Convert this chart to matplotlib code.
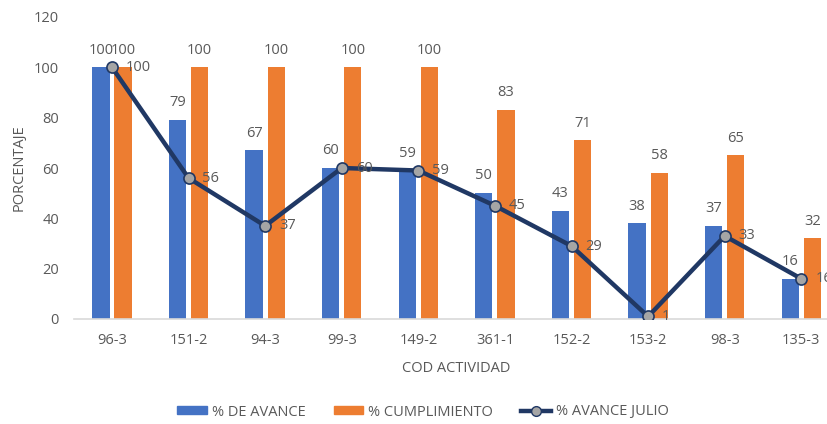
import matplotlib
matplotlib.use("Agg")
import matplotlib.pyplot as plt
import numpy as np
from matplotlib.lines import Line2D
from matplotlib.patches import Patch

categories = ["96-3", "151-2", "94-3", "99-3", "149-2", "361-1", "152-2", "153-2", "98-3", "135-3"]
avance = [100, 79, 67, 60, 59, 50, 43, 38, 37, 16]
cumplimiento = [100, 100, 100, 100, 100, 83, 71, 58, 65, 32]
avance_julio = [100, 56, 37, 60, 59, 45, 29, 1, 33, 16]

BLUE = "#4472C4"
ORANGE = "#ED7D31"
NAVY = "#203864"
GRAY_TXT = "#595959"

plt.rcParams['font.family'] = ['Open Sans', 'DejaVu Sans']

W, H = 828, 424
fig = plt.figure(figsize=(W/100, H/100), dpi=100)
left_px, right_px = 73.7, 839.6
bot_px, top_px = 319, 17
ax = fig.add_axes([left_px/W, (H-bot_px)/H, (right_px-left_px)/W, (bot_px-top_px)/H])

x = np.arange(len(categories))
bw = 0.225
off = 0.145
ax.bar(x - off, avance, bw, color=BLUE, zorder=2)
ax.bar(x + off, cumplimiento, bw, color=ORANGE, zorder=2)
ax.plot(x, avance_julio, color=NAVY, lw=3.2, marker='o', ms=8, mfc="#A5A5A5", mec=NAVY, mew=1.2, zorder=4)

fs = 10.5
for i in range(len(x)):
    ax.annotate(str(avance[i]), (x[i]-off, avance[i]), xytext=(0, 7), textcoords='offset points',
                ha='center', va='bottom', fontsize=fs, color=GRAY_TXT, zorder=5)
    ax.annotate(str(cumplimiento[i]), (x[i]+off, cumplimiento[i]), xytext=(0, 7), textcoords='offset points',
                ha='center', va='bottom', fontsize=fs, color=GRAY_TXT, zorder=5)
    ax.annotate(str(avance_julio[i]), (x[i], avance_julio[i]), xytext=(10, 0), textcoords='offset points',
                ha='left', va='center', fontsize=fs, color=GRAY_TXT, zorder=5)

ax.set_xlim(-0.5, len(categories)-0.5)
ax.set_ylim(0, 120)
ax.set_yticks(range(0, 121, 20))
ax.set_xticks(x)
ax.set_xticklabels(categories)
for s in ['top', 'right', 'left']:
    ax.spines[s].set_visible(False)
ax.spines['bottom'].set_color("#D9D9D9")
ax.spines['bottom'].set_linewidth(1.2)
ax.tick_params(axis='both', length=0, labelsize=fs, colors=GRAY_TXT, pad=10)
ax.tick_params(axis='y', pad=10.5)
ax.set_ylabel("PORCENTAJE", fontsize=fs, color=GRAY_TXT, labelpad=5)
ax.set_xlabel("COD ACTIVIDAD", fontsize=fs, color=GRAY_TXT, labelpad=9.5)

handles = [Patch(color=BLUE), Patch(color=ORANGE),
           Line2D([], [], color=NAVY, lw=3.2, marker='o', ms=7, mfc="#A5A5A5", mec=NAVY)]
fig.legend(handles, ["% DE AVANCE", "% CUMPLIMIENTO", "% AVANCE JULIO"], loc='center',
           bbox_to_anchor=(423/W, 1 - 412/H), ncol=3, frameon=False, fontsize=fs,
           labelcolor=GRAY_TXT, handlelength=2.05, handleheight=0.5, columnspacing=1.9, handletextpad=0.35)

fig.savefig("out.png", dpi=100)
